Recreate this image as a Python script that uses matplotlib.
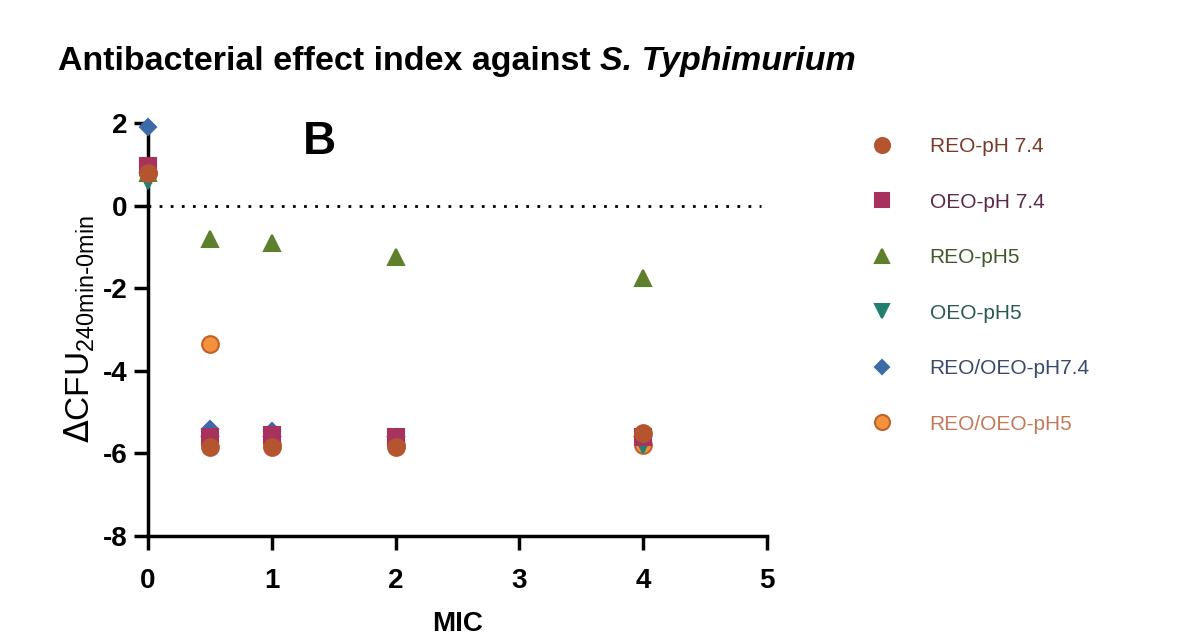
import numpy as np
import matplotlib.pyplot as plt

plt.rcParams['font.family'] = ['Liberation Sans', 'DejaVu Sans']
plt.rcParams['axes.unicode_minus'] = False

# data
mic = [0, 0.5, 1, 2, 4]
reo_ph74 = [0.8, -5.85, -5.85, -5.85, -5.5]
oeo_ph74 = [0.95, -5.6, -5.55, -5.6, -5.6]
reo_ph5 = [0.8, -0.8, -0.9, -1.25, -1.75]
oeo_ph5 = [0.6, -5.8, -5.8, -5.8, -5.8]
mix_ph74 = [1.9, -5.4, -5.45, -5.6, -5.6]
mix_ph5 = [0.8, -3.35, -5.8, -5.8, -5.8]

labels = ['REO-pH 7.4', 'OEO-pH 7.4', 'REO-pH5', 'OEO-pH5', 'REO/OEO-pH7.4', 'REO/OEO-pH5']
series = [reo_ph74, oeo_ph74, reo_ph5, oeo_ph5, mix_ph74, mix_ph5]
markers = ['o', 's', '^', 'v', 'D', 'o']
colors = ['#b4552f', '#a8325e', '#5e7f2b', '#22806e', '#3d6aa8', '#f5913d']
edges = ['#b4552f', '#a8325e', '#5e7f2b', '#22806e', '#3d6aa8', '#c0602a']
sizes = [12, 11, 11, 11, 8, 12]
text_colors = ['#7a3a2a', '#5a2a48', '#3f5a2a', '#2a5a50', '#3a4a6a', '#c07a5a']

fig = plt.figure(figsize=(12.03, 6.37), dpi=100)
ax = fig.add_axes([0.123, 0.1586, 0.5146, 0.6484])

ax.plot([0, 4.95], [0, 0], ls=(0, (1, 3)), color='black', lw=2)

# draw order: brown circles end up on top like in the original
order = [5, 3, 4, 2, 1, 0]
handles = {}
for i in order:
    h, = ax.plot(mic, series[i], ls='none', marker=markers[i], ms=sizes[i],
                 mfc=colors[i], mec=edges[i], mew=1.5, clip_on=False, zorder=3)
    handles[i] = h

ax.set_xlim(0, 5)
ax.set_ylim(-8, 2)
ax.set_xticks([0, 1, 2, 3, 4, 5])
ax.set_yticks([-8, -6, -4, -2, 0, 2])
for s in ['top', 'right']:
    ax.spines[s].set_visible(False)
for s in ['left', 'bottom']:
    ax.spines[s].set_linewidth(2.5)
ax.tick_params(width=2.5, length=10, labelsize=20, pad=5)
ax.tick_params(axis='x', pad=13)
for t in ax.get_xticklabels() + ax.get_yticklabels():
    t.set_fontweight('bold')

ax.set_xlabel('MIC', fontsize=20, fontweight='bold', labelpad=12)
ax.set_ylabel(r'$\Delta$CFU$_{\mathregular{240min\text{-}0min}}$', fontsize=24, labelpad=4)

# title: upright part then italic species name right after it
t1 = fig.text(0.048, 0.903, 'Antibacterial effect index against ', fontsize=24.5,
              fontweight='bold', ha='left', va='center')
fig.canvas.draw()
bb = t1.get_window_extent(renderer=fig.canvas.get_renderer())
fig.text(bb.x1 / fig.bbox.width, 0.903, 'S. Typhimurium', fontsize=24.5, fontweight='bold',
         style='italic', ha='left', va='center')

ax.text(1.25, 1.55, 'B', fontsize=33, fontweight='bold', ha='left', va='center')

leg = fig.legend([handles[i] for i in range(6)], labels, loc='center left',
                 bbox_to_anchor=(0.700, 0.552), frameon=False, fontsize=15,
                 labelspacing=1.75, handletextpad=1.3, markerscale=0.9)
for t, c in zip(leg.get_texts(), text_colors):
    t.set_color(c)

fig.savefig('out.png', dpi=100)
